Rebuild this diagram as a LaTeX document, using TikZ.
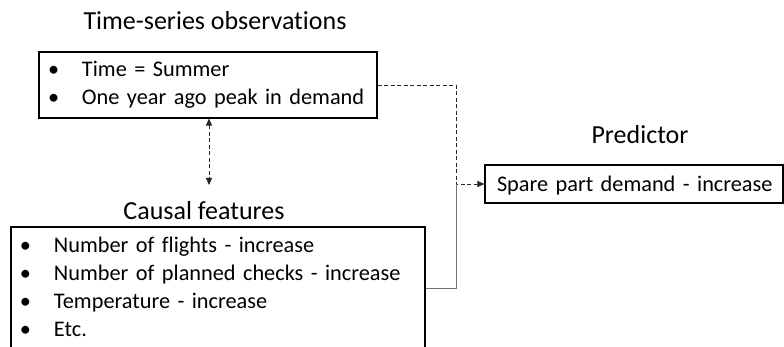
\documentclass[tikz,border=0pt]{standalone}
\usepackage{fontspec}
\setmainfont{Carlito}[Ligatures=NoCommon]
\usepackage{tikz}
\usetikzlibrary{arrows.meta, positioning}
\newcommand{\itm}{\makebox[39pt][l]{\hspace{5pt}\textbullet}}

\begin{document}
\begin{tikzpicture}[
  x=1pt, y=-1pt,
  box/.style={draw, line width=1.1pt, inner xsep=4pt, inner ysep=0pt, align=left,
              font=\fontsize{22.3}{28}\selectfont},
  heading/.style={inner sep=0pt, font=\fontsize{26}{30}\selectfont},
  link/.style={line width=0.8pt, dash pattern=on 4pt off 2.5pt, black!85},
  feed/.style={line width=0.8pt, black!55},
  tip/.style={-{Triangle[length=7pt, width=6pt]}},
  bitip/.style={{Triangle[length=7pt, width=6pt]}-{Triangle[length=7pt, width=6pt]}}
]
  \useasboundingbox (0,0) rectangle (784,347);
  \clip (0,0) rectangle (784,347);

  %% Time-series observations
  \node[box, text width=330pt, text height=25pt, text depth=41pt] (obs) at (208,85)
    {\itm Time = Summer\\ \itm One year ago peak in demand};
  \node[heading, above=22pt of obs, xshift=7pt] (obstitle) {Time-series observations};

  %% Causal features
  \node[box, text width=406pt, text height=26pt, text depth=96pt] (causal) at (218,288)
    {\itm Number of flights - increase\\ \itm Number of planned checks - increase\\
     \itm Temperature - increase\\ \itm Etc.};
  \node[heading, above=7pt of causal, xshift=-14pt] (causaltitle) {Causal features};

  %% Predictor
  \node[box, inner xsep=12pt, text width=274pt, text height=27pt, text depth=11pt] (pred) at (634,184)
    {\mbox{Spare part demand - increase}};
  \node[heading, above=21pt of pred, xshift=6pt] (predtitle) {Predictor};

  %% Arrows
  \coordinate (join) at (456,184);
  \coordinate (meet) at (209,185);
  \draw[link, bitip] (obs.south -| meet) -- (meet);
  \draw[link, tip] (obs.east) -| (join) -- (pred.west);
  \draw[feed] (causal.east) -| (join);
\end{tikzpicture}
\end{document}
